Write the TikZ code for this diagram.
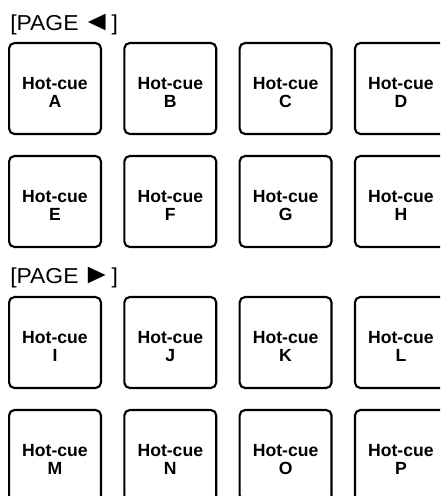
\documentclass[tikz,border=0pt]{standalone}
\usepackage{fontspec}
\setmainfont{Liberation Sans}
\newfontfamily\pagefont[FakeStretch=1.06]{Liberation Sans}

\tikzset{
  pad/.style={draw, line width=1.6pt, rounded corners=4pt,
    minimum width=68.9pt, minimum height=68.2pt, inner sep=0pt,
    align=center, font=\fontsize{13.2}{13.6}\selectfont\bfseries},
  pagelabel/.style={anchor=base west, inner sep=0pt,
    font=\pagefont\fontsize{16.2}{18}\selectfont}
}
\newcommand{\hotcue}[1]{\rule{0pt}{14.6pt}Hot-cue\\#1}
\newcommand{\pagetri}[1]{{\fontsize{21}{18}\selectfont #1}}

\begin{document}
\begin{tikzpicture}[x=0.75pt,y=-0.75pt]
  % Frame
  \useasboundingbox (0,0) rectangle (440,496);
  \clip (0,0) rectangle (440,496);

  % Page back
  \node[pagelabel] (pageback) at (10,30) {[PAGE\,\pagetri{◄}]};

  % First page of pads
  \node[pad] (padA) at (55,88.5) {\hotcue{A}};
  \node[pad] (padB) at (170.3,88.5) {\hotcue{B}};
  \node[pad] (padC) at (285.6,88.5) {\hotcue{C}};
  \node[pad] (padD) at (400.9,88.5) {\hotcue{D}};
  \node[pad] (padE) at (55,201.5) {\hotcue{E}};
  \node[pad] (padF) at (170.3,201.5) {\hotcue{F}};
  \node[pad] (padG) at (285.6,201.5) {\hotcue{G}};
  \node[pad] (padH) at (400.9,201.5) {\hotcue{H}};

  % Page forward
  \node[pagelabel] (pagefwd) at (10,283) {[PAGE\,\pagetri{►}]};

  % Second page of pads
  \node[pad] (padI) at (55,342.5) {\hotcue{I}};
  \node[pad] (padJ) at (170.3,342.5) {\hotcue{J}};
  \node[pad] (padK) at (285.6,342.5) {\hotcue{K}};
  \node[pad] (padL) at (400.9,342.5) {\hotcue{L}};
  \node[pad] (padM) at (55,455.5) {\hotcue{M}};
  \node[pad] (padN) at (170.3,455.5) {\hotcue{N}};
  \node[pad] (padO) at (285.6,455.5) {\hotcue{O}};
  \node[pad] (padP) at (400.9,455.5) {\hotcue{P}};
\end{tikzpicture}
\end{document}
